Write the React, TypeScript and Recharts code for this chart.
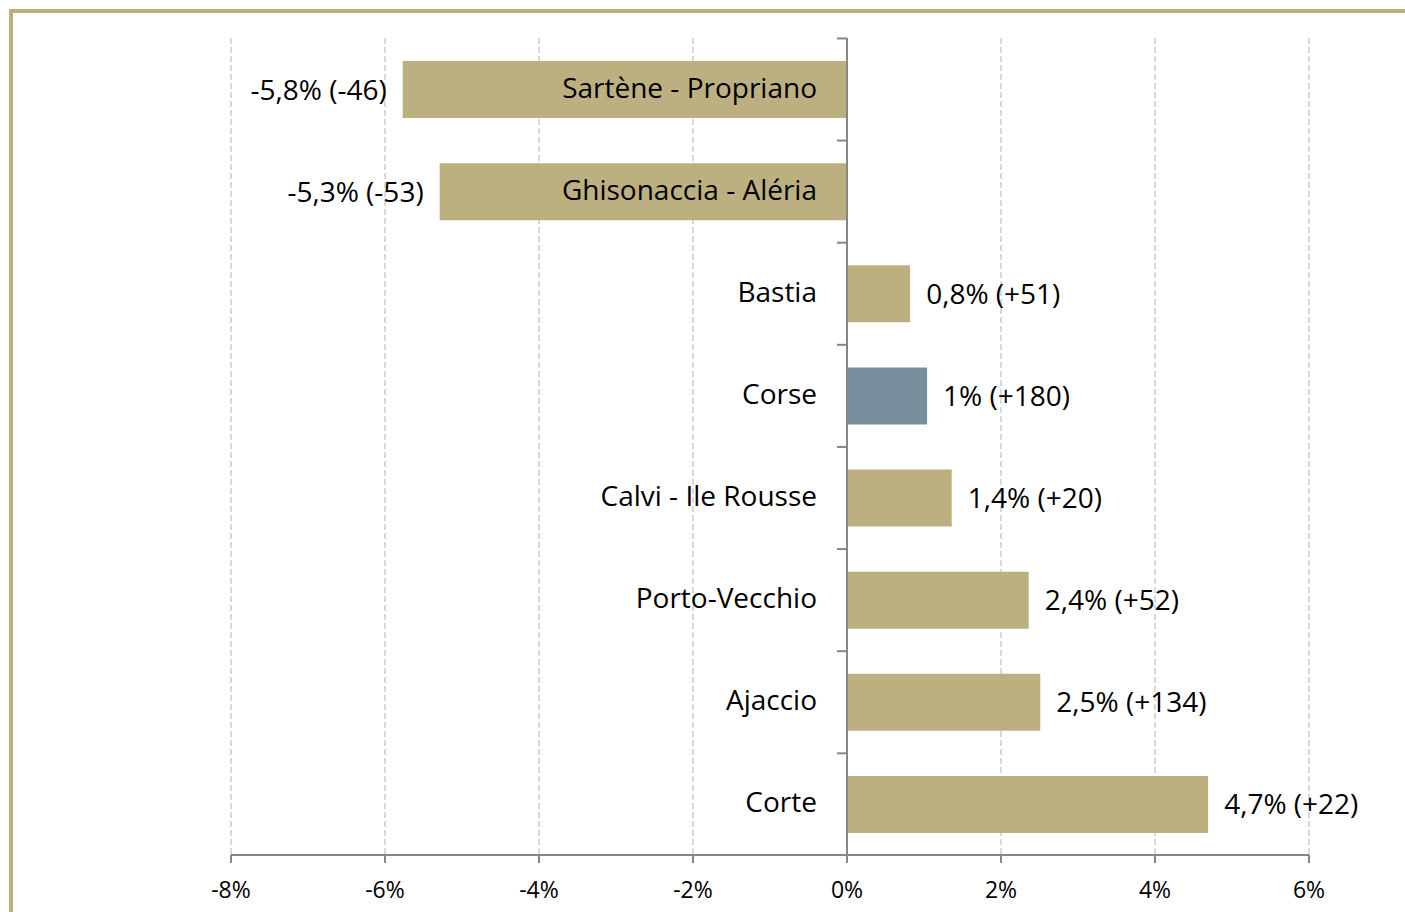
import { ComposedChart, Bar, Cell, XAxis, YAxis, CartesianGrid, ReferenceLine, LabelList } from 'recharts';

const zones = [
  'Sartène - Propriano',
  'Ghisonaccia - Aléria',
  'Bastia',
  'Corse',
  'Calvi - Ile Rousse',
  'Porto-Vecchio',
  'Ajaccio',
  'Corte',
];
const evolution = [-5.77, -5.29, 0.82, 1.04, 1.36, 2.36, 2.51, 4.69];
const valueLabels = [
  '-5,8% (-46)',
  '-5,3% (-53)',
  '0,8% (+51)',
  '1% (+180)',
  '1,4% (+20)',
  '2,4% (+52)',
  '2,5% (+134)',
  '4,7% (+22)',
];
const xTicks = [-8, -6, -4, -2, 0, 2, 4, 6];

const GOLD = '#BDB080';
const GREY_BLUE = '#7A8F9E';
const AXIS = '#868686';
const FONT = '"Open Sans", "Noto Sans", sans-serif';

const W = 1405;
const H = 912;
const M = { top: 38, right: 96, bottom: 27, left: 231 };
const X_AXIS_H = 30;
const BAND = (H - M.top - M.bottom - X_AXIS_H) / zones.length;

const data = zones.map((name, i) => ({ name, value: evolution[i], label: valueLabels[i] }));

function NameLabel(props: any) {
  const { x, y, width, height, value, index } = props;
  const zero = evolution[index] < 0 ? Math.max(x, x + width) : Math.min(x, x + width);
  const cy = y + height / 2;
  return (
    <g>
      <line x1={zero - 10} x2={zero} y1={cy - BAND / 2} y2={cy - BAND / 2} stroke={AXIS} strokeWidth={2} />
      <text x={zero - 30} y={cy - 3} textAnchor="end" dominantBaseline="central" fontSize={28} fontFamily={FONT} fill="#000">
        {value}
      </text>
    </g>
  );
}

function ValueLabel(props: any) {
  const { x, y, width, height, value, index } = props;
  const neg = evolution[index] < 0;
  const end = neg ? Math.min(x, x + width) : Math.max(x, x + width);
  return (
    <text
      x={neg ? end - 16 : end + 16}
      y={y + height / 2 - 1}
      textAnchor={neg ? 'end' : 'start'}
      dominantBaseline="central"
      fontSize={28}
      fontFamily={FONT}
      fill="#000"
    >
      {value}
    </text>
  );
}

export default function App() {
  return (
    <div style={{ position: 'fixed', left: 0, top: 0, width: W, height: H, overflow: 'hidden', background: '#fff' }}>
      <div
        style={{
          position: 'absolute',
          left: 9,
          top: 9,
          width: W + 20,
          height: H + 20,
          borderTop: `4px solid ${GOLD}`,
          borderLeft: `4px solid ${GOLD}`,
        }}
      />
      <div style={{ position: 'absolute', left: 0, top: 0 }}>
        <ComposedChart width={W} height={H} data={data} layout="vertical" margin={M}>
          <CartesianGrid horizontal={false} stroke="#D9D9D9" strokeWidth={2} strokeDasharray="6 3" />
          <XAxis
            type="number"
            domain={[-8, 6]}
            ticks={xTicks}
            height={X_AXIS_H}
            tickFormatter={(v: number) => `${v}%`}
            axisLine={{ stroke: AXIS, strokeWidth: 2 }}
            tickLine={{ stroke: AXIS, strokeWidth: 2 }}
            tickSize={8}
            tickMargin={19}
            tick={{ fontSize: 23, fontFamily: FONT, fill: '#000' }}
          />
          <YAxis type="category" dataKey="name" hide />
          <Bar dataKey="value" barSize={57} isAnimationActive={false}>
            {data.map((d) => (
              <Cell key={d.name} fill={d.name === 'Corse' ? GREY_BLUE : GOLD} />
            ))}
            <LabelList dataKey="name" content={NameLabel} />
            <LabelList dataKey="label" content={ValueLabel} />
          </Bar>
          <ReferenceLine x={0} stroke={AXIS} strokeWidth={2} />
        </ComposedChart>
      </div>
    </div>
  );
}
